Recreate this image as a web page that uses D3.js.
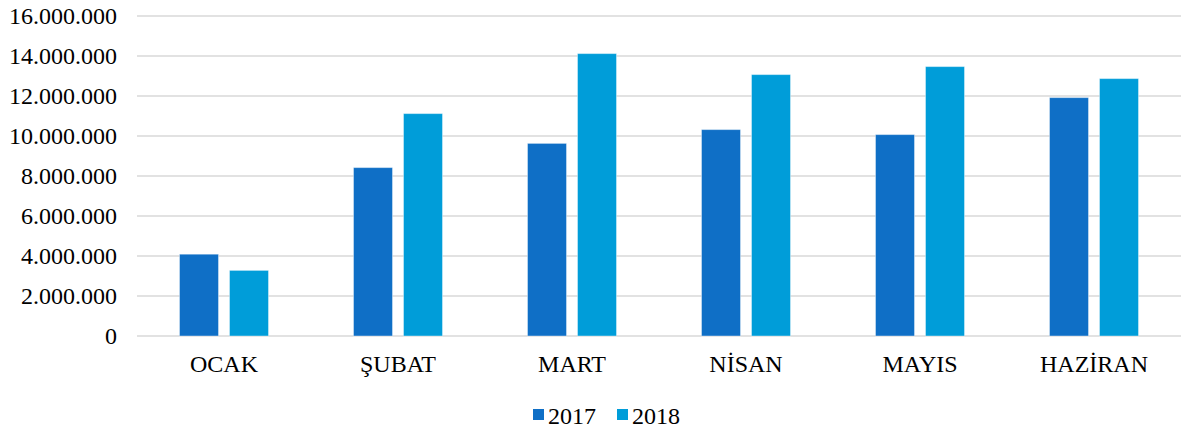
<!DOCTYPE html>
<html>
<head>
<meta charset="utf-8">
<script src="https://cdn.jsdelivr.net/npm/d3@7"></script>
<style>
  body { margin: 0; background: #fff; }
  text { font-family: "Liberation Serif", "Times New Roman", serif; fill: #000; }
</style>
</head>
<body>
<div id="chart"></div>
<script>
const months = ["OCAK", "ŞUBAT", "MART", "NİSAN", "MAYIS", "HAZİRAN"];
const seriesNames = ["2017", "2018"];
const values2017 = [4090000, 8420000, 9630000, 10320000, 10070000, 11920000];
const values2018 = [3280000, 11120000, 14120000, 13070000, 13470000, 12870000];
const yTicks = [0, 2000000, 4000000, 6000000, 8000000, 10000000, 12000000, 14000000, 16000000];

const width = 1182;
const height = 432;
const margin = { top: 16, right: 1, bottom: 96, left: 137 };

const colors = d3.scaleOrdinal().domain(seriesNames).range(["#0F6FC6", "#009DD9"]);

const table = months.map((m, i) => ({ month: m, "2017": values2017[i], "2018": values2018[i] }));

const svg = d3
  .select("#chart")
  .append("svg")
  .attr("width", width)
  .attr("height", height);

const x0 = d3
  .scaleBand()
  .domain(months)
  .range([margin.left, width - margin.right])
  .padding(0);

const x1 = d3
  .scaleBand()
  .domain(seriesNames)
  .range([42.5, x0.bandwidth() - 42.5])
  .paddingInner(0.22)
  .paddingOuter(0);

const y = d3
  .scaleLinear()
  .domain([0, 16000000])
  .range([height - margin.bottom, margin.top]);

const fmt = (v) => d3.format(",")(v).replace(/,/g, ".");

// gridlines
svg
  .append("g")
  .selectAll("line")
  .data(yTicks)
  .enter()
  .append("line")
  .attr("x1", margin.left)
  .attr("x2", width - margin.right)
  .attr("y1", (d) => y(d))
  .attr("y2", (d) => y(d))
  .attr("stroke", "#d9d9d9")
  .attr("stroke-width", 1.5);

// y labels
svg
  .append("g")
  .selectAll("text")
  .data(yTicks)
  .enter()
  .append("text")
  .attr("x", 117)
  .attr("y", (d) => y(d))
  .attr("dy", "0.33em")
  .attr("text-anchor", "end")
  .style("font-size", "24px")
  .text(fmt);

// bars
const groups = svg
  .append("g")
  .selectAll("g")
  .data(table)
  .enter()
  .append("g")
  .attr("transform", (d) => `translate(${x0(d.month)},0)`);

groups
  .selectAll("rect")
  .data((d) => seriesNames.map((s) => ({ key: s, value: d[s] })))
  .enter()
  .append("rect")
  .attr("x", (d) => x1(d.key))
  .attr("width", x1.bandwidth())
  .attr("y", (d) => y(d.value))
  .attr("height", (d) => y(0) - y(d.value))
  .attr("fill", (d) => colors(d.key))
  .attr("stroke", "#ffffff")
  .attr("stroke-opacity", 0.4)
  .attr("stroke-width", 1);

// category labels
svg
  .append("g")
  .selectAll("text")
  .data(months)
  .enter()
  .append("text")
  .attr("x", (d) => x0(d) + x0.bandwidth() / 2)
  .attr("y", 372)
  .attr("text-anchor", "middle")
  .style("font-size", "24px")
  .text((d) => d);

// legend
const legend = svg
  .append("g")
  .selectAll("g")
  .data(seriesNames)
  .enter()
  .append("g")
  .attr("transform", (d, i) => `translate(${533 + i * 84},0)`);

legend
  .append("rect")
  .attr("x", 0)
  .attr("y", 409)
  .attr("width", 11)
  .attr("height", 11)
  .attr("fill", (d) => colors(d));

legend
  .append("text")
  .attr("x", 15)
  .attr("y", 424)
  .style("font-size", "24px")
  .text((d) => d);
</script>
</body>
</html>
